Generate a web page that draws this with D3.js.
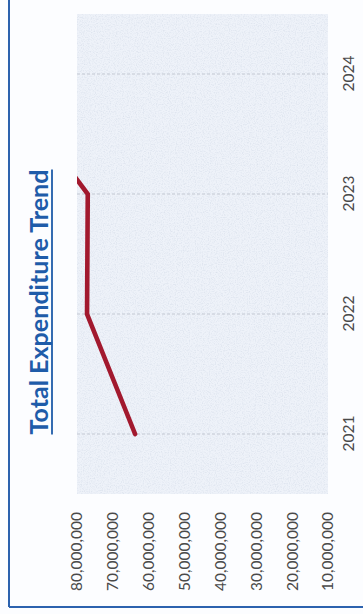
<!DOCTYPE html>
<html>
<head>
<meta charset="utf-8">
<script src="https://cdn.jsdelivr.net/npm/d3@7"></script>
<style>
  html, body { margin: 0; padding: 0; background: #fcfdff; }
  svg { display: block; }
</style>
</head>
<body>
<svg id="chart" width="363" height="614"></svg>
<script>
// Chart data
const years = ["2021", "2022", "2023", "2024"];
const expenditure = [63800000, 77200000, 77000000, 102000000];
const valueTicks = [10000000, 20000000, 30000000, 40000000, 50000000, 60000000, 70000000, 80000000];
const titleText = "Total Expenditure Trend";

// The chart is laid out landscape (614 wide, 363 tall) and turned a quarter turn
const pageW = 363, pageH = 614;
const svg = d3.select("#chart");

const defs = svg.append("defs");
const grain = defs.append("filter").attr("id", "grain")
  .attr("x", 0).attr("y", 0).attr("width", 1).attr("height", 1);
grain.append("feTurbulence").attr("type", "fractalNoise")
  .attr("baseFrequency", 0.85).attr("numOctaves", 2).attr("seed", 7);
grain.append("feColorMatrix").attr("type", "matrix")
  .attr("values", "0 0 0 0 0.62  0 0 0 0 0.68  0 0 0 0 0.78  0 0 0 2.2 -0.95");

const g = svg.append("g").attr("transform", `translate(0,${pageH}) rotate(-90)`);

const plot = { left: 120, right: 600, top: 77, bottom: 328 };

const x = d3.scalePoint().domain(years).range([plot.left, plot.right]).padding(0.5);
const y = d3.scaleLinear().domain([10000000, 80000000]).range([plot.bottom, plot.top]);

// Outer frame edges
g.append("line").attr("x1", 7).attr("x2", pageH + 2).attr("y1", 9).attr("y2", 9)
  .attr("stroke", "#2c62ae").attr("stroke-width", 2);
g.append("line").attr("x1", 7).attr("x2", 7).attr("y1", 9).attr("y2", pageW + 2)
  .attr("stroke", "#2c62ae").attr("stroke-width", 2);

// Plot area
g.append("rect")
  .attr("x", plot.left).attr("y", plot.top)
  .attr("width", plot.right - plot.left).attr("height", plot.bottom - plot.top)
  .attr("fill", "#eef2f9");
g.append("rect")
  .attr("x", plot.left).attr("y", plot.top)
  .attr("width", plot.right - plot.left).attr("height", plot.bottom - plot.top)
  .attr("fill", "#ffffff").attr("filter", "url(#grain)").attr("opacity", 0.55);

// Category gridlines
g.append("g").selectAll("line").data(years).join("line")
  .attr("x1", d => x(d)).attr("x2", d => x(d))
  .attr("y1", plot.top).attr("y2", plot.bottom)
  .attr("stroke", "#c3c8d2").attr("stroke-width", 1)
  .attr("stroke-dasharray", "3,2");

// Value axis
const yAxis = g.append("g")
  .attr("transform", `translate(${plot.left},0)`)
  .call(d3.axisLeft(y).tickValues(valueTicks).tickFormat(d3.format(",")).tickSize(0).tickPadding(18));
yAxis.select(".domain").remove();
yAxis.selectAll("text")
  .attr("font-family", "Lato, 'Open Sans', sans-serif")
  .attr("font-size", 15.5)
  .attr("fill", "#4a4a4a");

// Year axis
const xAxis = g.append("g")
  .attr("transform", `translate(0,${plot.bottom})`)
  .call(d3.axisBottom(x).tickSize(0));
xAxis.select(".domain").remove();
xAxis.selectAll("text")
  .attr("y", 21).attr("dy", "0.35em")
  .attr("font-family", "Lato, 'Open Sans', sans-serif")
  .attr("font-size", 15.5)
  .attr("fill", "#4a4a4a");

// Expenditure line
defs.append("clipPath").attr("id", "plotClip")
  .append("rect")
  .attr("x", plot.left).attr("y", plot.top)
  .attr("width", plot.right - plot.left).attr("height", plot.bottom - plot.top);

const line = d3.line()
  .x((d, i) => x(years[i]))
  .y(d => y(d));

g.append("path")
  .datum(expenditure)
  .attr("clip-path", "url(#plotClip)")
  .attr("d", line)
  .attr("fill", "none")
  .attr("stroke", "#a2192e")
  .attr("stroke-width", 4.6)
  .attr("stroke-linecap", "round")
  .attr("stroke-linejoin", "miter");

// Title with underline
const titleCenter = 312, titleBase = 48, titleLen = 265;
const title = g.append("text")
  .attr("x", titleCenter).attr("y", titleBase)
  .attr("text-anchor", "middle")
  .attr("font-family", "Lato, 'Open Sans', sans-serif")
  .attr("font-weight", "bold")
  .attr("font-size", 20)
  .attr("fill", "#1f5ca9")
  .text(titleText);
const measured = title.node().getComputedTextLength();
title.attr("font-size", 20 * titleLen / measured);
const len = title.node().getComputedTextLength();
g.append("line")
  .attr("x1", titleCenter - len / 2).attr("x2", titleCenter + len / 2)
  .attr("y1", titleBase + 4).attr("y2", titleBase + 4)
  .attr("stroke", "#1f5ca9").attr("stroke-width", 1.8);
</script>
</body>
</html>
